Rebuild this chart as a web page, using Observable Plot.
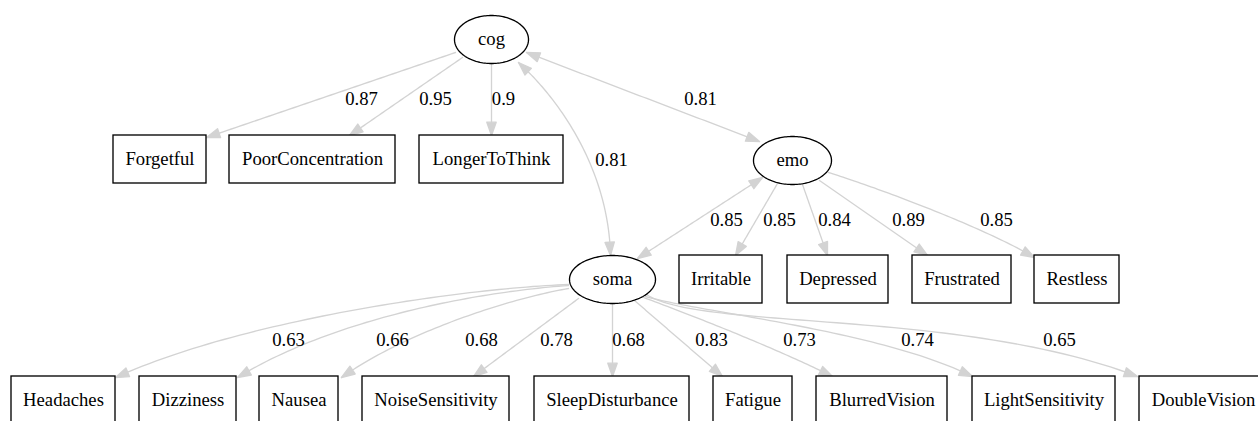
<!DOCTYPE html>
<html>
<head>
<meta charset="utf-8">
<script src="https://cdn.jsdelivr.net/npm/d3@7"></script>
<script src="https://cdn.jsdelivr.net/npm/@observablehq/plot@0.6"></script>
<style>
  html, body { margin: 0; padding: 0; background: #fff; }
  #chart { width: 1258px; height: 421px; overflow: hidden; }
</style>
</head>
<body>
<div id="chart"></div>
<script>
// ---------- data ----------
const latentNames = ["cog", "emo", "soma"];
const latentX = [491, 792, 612];
const latentY = [39, 160, 279];
const latentRx = [37, 39, 43];
const latentRy = [24, 24, 24];

const indicatorNames = ["Forgetful", "PoorConcentration", "LongerToThink",
  "Irritable", "Depressed", "Frustrated", "Restless",
  "Headaches", "Dizziness", "Nausea", "NoiseSensitivity", "SleepDisturbance",
  "Fatigue", "BlurredVision", "LightSensitivity", "DoubleVision"];
const indicatorFactor = ["cog", "cog", "cog", "emo", "emo", "emo", "emo",
  "soma", "soma", "soma", "soma", "soma", "soma", "soma", "soma", "soma"];
const loadings = [0.87, 0.95, 0.9, 0.85, 0.84, 0.89, 0.85,
  0.63, 0.66, 0.68, 0.78, 0.68, 0.83, 0.73, 0.74, 0.65];

const covFrom = ["cog", "cog", "emo"];
const covTo = ["emo", "soma", "soma"];
const covValues = [0.81, 0.81, 0.85];

// layout
const boxLeft = [113, 229, 419, 679, 787, 912, 1034, 11, 139, 259, 362, 534, 713, 816, 972, 1139];
const boxRight = [206, 395, 563, 762, 888, 1011, 1119, 115, 236, 338, 509, 689, 792, 947, 1115, 1267];
const boxTop = [135, 135, 135, 255, 255, 255, 255, 376, 376, 376, 376, 376, 376, 376, 376, 376];
const boxHeight = 48;

const loadLabelX = [361, 435, 503, 779, 834, 908, 996, 288, 392, 481, 556, 628, 711, 799, 917, 1059];
const loadLabelY = [99, 99, 99, 220, 220, 220, 220, 340, 340, 340, 340, 340, 340, 340, 340, 340];
const covLabelX = [700, 611, 726];
const covLabelY = [99, 160, 220];

// edge splines: [tail, ctrl1, ctrl2, head] (null ctrl = straight)
const loadPaths = [
  [[455, 52], null, null, [206, 137]],
  [[462, 57], null, null, [349, 135]],
  [[491, 63], null, null, [491, 135]],
  [[777, 183], null, null, [735, 255]],
  [[802, 184], null, null, [827, 255]],
  [[819, 180], null, null, [927, 255]],
  [[828, 172], [870, 185], [980, 225], [1034, 257]],
  [[568, 284], [460, 288], [240, 320], [115, 377]],
  [[568, 285], [470, 292], [330, 320], [237, 377]],
  [[568, 288], [500, 300], [400, 335], [341, 377]],
  [[578, 298], null, null, [473, 376]],
  [[612, 303], null, null, [612, 376]],
  [[634, 300], null, null, [722, 376]],
  [[643, 297], [700, 318], [780, 350], [832, 376]],
  [[645, 296], [700, 312], [880, 330], [972, 376]],
  [[646, 294], [700, 330], [960, 308], [1137, 376]]
];
const covPaths = [
  [[526, 52], null, null, [759, 141]],
  [[518, 62], [560, 100], [608, 170], [610, 255]],
  [[762, 177], null, null, [637, 258]]
];

// ---------- geometry helpers ----------
function full(p) {
  const [a, b, c, d] = p;
  return [a,
    b || [a[0] + (d[0] - a[0]) / 3, a[1] + (d[1] - a[1]) / 3],
    c || [a[0] + 2 * (d[0] - a[0]) / 3, a[1] + 2 * (d[1] - a[1]) / 3],
    d];
}
function bez(p, t) {
  const u = 1 - t;
  const k = [u * u * u, 3 * u * u * t, 3 * u * t * t, t * t * t];
  return [0, 1].map(j => k[0] * p[0][j] + k[1] * p[1][j] + k[2] * p[2][j] + k[3] * p[3][j]);
}
const edgeRows = [];
const arrowRows = [];
let arrowId = 0;
function addArrow(tip, from) {
  let dx = tip[0] - from[0], dy = tip[1] - from[1];
  const L = Math.hypot(dx, dy) || 1; dx /= L; dy /= L;
  const len = 13.3, hw = 4.7;
  const bx = tip[0] - dx * len, by = tip[1] - dy * len;
  const id = arrowId++;
  arrowRows.push({id, x: tip[0], y: tip[1]});
  arrowRows.push({id, x: bx - dy * hw, y: by + dx * hw});
  arrowRows.push({id, x: bx + dy * hw, y: by - dx * hw});
}
function addEdge(key, path, both) {
  const p = full(path);
  for (const t of d3.range(0, 1.0001, 1 / 60)) {
    const [x, y] = bez(p, t);
    edgeRows.push({key, x, y});
  }
  addArrow(p[3], bez(p, 0.93));
  if (both) addArrow(p[0], bez(p, 0.07));
}
loadPaths.forEach((p, i) => addEdge("l" + i, p, false));
covPaths.forEach((p, i) => addEdge("c" + i, p, true));

const ellipseRows = [];
latentNames.forEach((name, i) => {
  for (const a of d3.range(0, 2 * Math.PI, Math.PI / 80)) {
    ellipseRows.push({name, x: latentX[i] + latentRx[i] * Math.cos(a), y: latentY[i] + latentRy[i] * Math.sin(a)});
  }
});

const boxes = indicatorNames.map((name, i) => ({
  name, x1: boxLeft[i], x2: boxRight[i], y1: boxTop[i], y2: boxTop[i] + boxHeight,
  cx: (boxLeft[i] + boxRight[i]) / 2, cy: boxTop[i] + boxHeight / 2
}));
const latents = latentNames.map((name, i) => ({name, x: latentX[i], y: latentY[i]}));
const labels = [
  ...loadings.map((v, i) => ({text: String(v), x: loadLabelX[i], y: loadLabelY[i]})),
  ...covValues.map((v, i) => ({text: String(v), x: covLabelX[i], y: covLabelY[i]}))
];

// ---------- plot ----------
const W = 1258, H = 421;
const FONT = "'Liberation Serif', 'Times New Roman', Times, serif";
const FS = 18.67;
const EDGE = "#d3d3d3";

const chart = Plot.plot({
  width: W, height: H,
  marginTop: 0, marginRight: 0, marginBottom: 0, marginLeft: 0,
  x: {domain: [0, W], range: [0, W], axis: null},
  y: {domain: [0, H], range: [0, H], axis: null},
  style: {background: "white", fontFamily: FONT, overflow: "hidden"},
  marks: [
    Plot.line(edgeRows, {x: "x", y: "y", z: "key", stroke: EDGE, strokeWidth: 1.33, curve: "linear"}),
    Plot.line(arrowRows, {x: "x", y: "y", z: "id", fill: EDGE, stroke: EDGE, strokeWidth: 1.33, curve: "linear-closed"}),
    Plot.rect(boxes, {x1: "x1", x2: "x2", y1: "y1", y2: "y2", fill: "white", stroke: "black", strokeWidth: 1.33}),
    Plot.line(ellipseRows, {x: "x", y: "y", z: "name", fill: "white", stroke: "black", strokeWidth: 1.33, curve: "linear-closed"}),
    Plot.text(boxes, {x: "cx", y: "cy", text: "name", fontSize: FS, fontFamily: FONT, fill: "black"}),
    Plot.text(latents, {x: "x", y: "y", text: "name", fontSize: FS, fontFamily: FONT, fill: "black"}),
    Plot.text(labels, {x: "x", y: "y", text: "text", fontSize: FS, fontFamily: FONT, fill: "black"})
  ]
});
document.getElementById("chart").appendChild(chart);
</script>
</body>
</html>
